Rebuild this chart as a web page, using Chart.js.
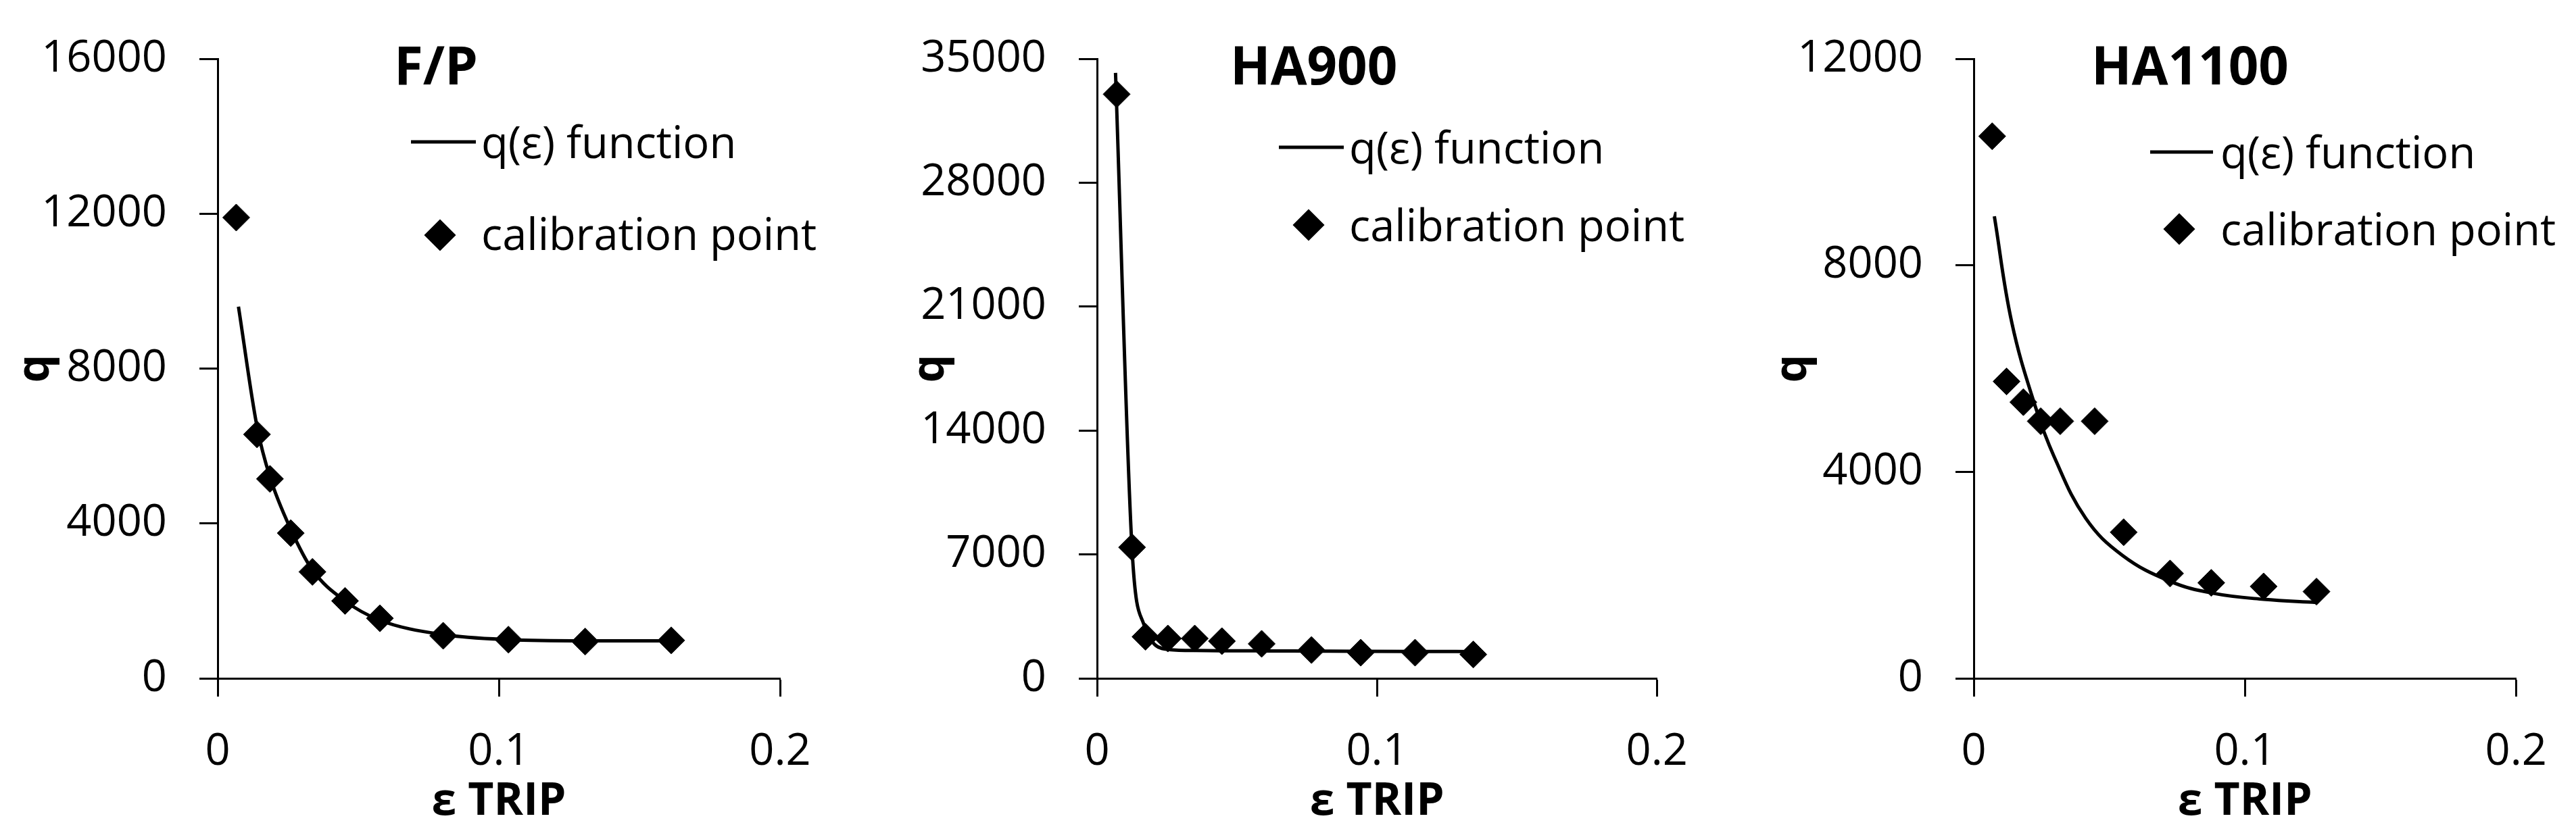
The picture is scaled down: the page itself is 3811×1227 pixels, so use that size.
<!DOCTYPE html>
<html>
<head>
<meta charset="utf-8">
<script src="https://cdn.jsdelivr.net/npm/chart.js@4.4.1/dist/chart.umd.min.js"></script>
<style>
  html, body { margin: 0; padding: 0; background: #fff; }
  body { width: 3811px; height: 1227px; position: relative; overflow: hidden; }
  canvas { position: absolute; top: 0; }
</style>
</head>
<body>
<canvas id="c1"></canvas>
<canvas id="c2"></canvas>
<canvas id="c3"></canvas>
<script>
// ---------------- DATA ----------------
const panelTitles = ['F/P', 'HA900', 'HA1100'];
const legendLabels = ['q(\u03b5) function', 'calibration point'];
const xAxisTitle = '\u03b5 TRIP';
const yAxisTitle = 'q';

const xTicks = [0, 0.1, 0.2];
const xTickLabels = ['0', '0.1', '0.2'];

const fpTicks = [0, 4000, 8000, 12000, 16000];
const fpTickLabels = ['0', '4000', '8000', '12000', '16000'];
const ha900Ticks = [0, 7000, 14000, 21000, 28000, 35000];
const ha900TickLabels = ['0', '7000', '14000', '21000', '28000', '35000'];
const ha1100Ticks = [0, 4000, 8000, 12000];
const ha1100TickLabels = ['0', '4000', '8000', '12000'];

// F/P calibration points
const fpPointX = [0.0066, 0.0140, 0.0186, 0.0260, 0.0337, 0.0453, 0.0577, 0.0802, 0.1034, 0.1307, 0.1613];
const fpPointQ = [11900, 6300, 5150, 3750, 2750, 2000, 1550, 1100, 1000, 950, 980];
// F/P q(e) function
const fpFitX = [0.0074, 0.0140, 0.0186, 0.0260, 0.0337, 0.0453, 0.0577, 0.0802, 0.1034, 0.1307, 0.1613];
const fpFitQ = [9600, 6500, 5200, 3850, 2800, 2000, 1500, 1130, 1000, 970, 970];

// HA900 calibration points
const ha900PointX = [0.0070, 0.0125, 0.0173, 0.0253, 0.0349, 0.0446, 0.0588, 0.0766, 0.0942, 0.1136, 0.1344];
const ha900PointQ = [33000, 7400, 2350, 2250, 2250, 2100, 1950, 1600, 1450, 1450, 1350];
// HA900 q(e) function
const ha900FitX = [0.0066, 0.0125, 0.0166, 0.0258, 0.0349, 0.0446, 0.0588, 0.0766, 0.0942, 0.1136, 0.1344];
const ha900FitQ = [34200, 7300, 3100, 1620, 1570, 1560, 1550, 1540, 1530, 1520, 1510];

// HA1100 calibration points
const ha1100PointX = [0.0068, 0.0121, 0.0183, 0.0247, 0.0319, 0.0446, 0.0553, 0.0724, 0.0876, 0.1069, 0.1264];
const ha1100PointQ = [10500, 5750, 5350, 4980, 4980, 4980, 2830, 2030, 1850, 1780, 1680];
// HA1100 q(e) function
const ha1100FitX = [0.0076, 0.0140, 0.0228, 0.0296, 0.0413, 0.0549, 0.0724, 0.0880, 0.1069, 0.1264];
const ha1100FitQ = [8950, 6900, 5250, 4300, 3100, 2380, 1880, 1650, 1530, 1470];

// ---------------- LAYOUT / STYLE ----------------
const FONT = "'Open Sans', 'DejaVu Sans', sans-serif";
const TICK_SIZE = 65;
const AXIS_TITLE_SIZE = 66;
const PANEL_TITLE_SIZE = 78;
const PLOT_TOP = 56, PLOT_BOTTOM = 1004, H = 1227;

const panels = [
  { id: 'c1', left: 0, width: 1270, plotLeft: 322, plotRight: 1154, qCenter: 62,
    ticks: fpTicks, tickLabels: fpTickLabels, smooth: 'monotone',
    px: fpPointX, pq: fpPointQ, fx: fpFitX, fq: fpFitQ, title: panelTitles[0],
    deco: { titleX: 583, titleBase: 125, lineX1: 608, lineX2: 704, lineY: 210, textX: 712, base1: 234, dX: 651, dY: 348, base2: 370 } },
  { id: 'c2', left: 1270, width: 1270, plotLeft: 1623, plotRight: 2453, qCenter: 116,
    ticks: ha900Ticks, tickLabels: ha900TickLabels, smooth: 'monotone',
    px: ha900PointX, pq: ha900PointQ, fx: ha900FitX, fq: ha900FitQ, title: panelTitles[1],
    deco: { titleX: 1820, titleBase: 125, lineX1: 1892, lineX2: 1988, lineY: 218, textX: 1996, base1: 242, dX: 1936, dY: 333, base2: 357 } },
  { id: 'c3', left: 2540, width: 1271, plotLeft: 2920, plotRight: 3752, qCenter: 122,
    ticks: ha1100Ticks, tickLabels: ha1100TickLabels, smooth: 'default',
    px: ha1100PointX, pq: ha1100PointQ, fx: ha1100FitX, fq: ha1100FitQ, title: panelTitles[2],
    deco: { titleX: 3094, titleBase: 125, lineX1: 3181, lineX2: 3274, lineY: 225, textX: 3285, base1: 249, dX: 3224, dY: 339, base2: 363 } }
];

function toXY(xs, ys) { return xs.map((x, i) => ({ x: x, y: ys[i] })); }

const decoPlugin = {
  id: 'deco',
  afterDraw(chart, args, opts) {
    const ctx = chart.ctx;
    const p = opts.panel;
    const d = p.deco;
    const off = p.left;
    ctx.save();
    ctx.fillStyle = '#000';
    ctx.strokeStyle = '#000';
    ctx.textAlign = 'left';
    ctx.textBaseline = 'alphabetic';
    ctx.font = 'bold ' + PANEL_TITLE_SIZE + 'px ' + FONT;
    ctx.fillText(p.title, d.titleX - off, d.titleBase);
    // legend: function line
    ctx.lineWidth = 5;
    ctx.beginPath();
    ctx.moveTo(d.lineX1 - off, d.lineY);
    ctx.lineTo(d.lineX2 - off, d.lineY);
    ctx.stroke();
    ctx.font = TICK_SIZE + 'px ' + FONT;
    ctx.fillText(legendLabels[0], d.textX - off, d.base1);
    // legend: marker
    Chart.helpers.drawPoint(ctx, { pointStyle: 'rectRot', radius: 20, borderWidth: 1, rotation: 0 }, d.dX - off, d.dY);
    ctx.fill();
    ctx.fillText(legendLabels[1], d.textX - off, d.base2);
    ctx.restore();
  }
};

function build() {
  Chart.defaults.font.family = FONT;
  Chart.defaults.color = '#000';
  panels.forEach(p => {
    const cv = document.getElementById(p.id);
    cv.width = p.width; cv.height = H;
    cv.style.left = p.left + 'px';
    cv.style.width = p.width + 'px'; cv.style.height = H + 'px';
    const yW = p.plotLeft - p.left;
    const padRight = p.width - (p.plotRight - p.left);
    const yMax = p.ticks[p.ticks.length - 1];
    new Chart(cv.getContext('2d'), {
      data: {
        datasets: [
          { type: 'scatter', label: legendLabels[1], data: toXY(p.px, p.pq),
            pointStyle: 'rectRot', pointRadius: 20, pointHoverRadius: 20,
            backgroundColor: '#000', borderColor: '#000', pointBorderWidth: 1, order: 1 },
          { type: 'line', label: legendLabels[0], data: toXY(p.fx, p.fq),
            borderColor: '#000', borderWidth: 5, pointRadius: 0, fill: false,
            cubicInterpolationMode: p.smooth, tension: 0.4, order: 2 }
        ]
      },
      options: {
        responsive: false, animation: false, devicePixelRatio: 1,
        layout: { padding: { left: 0, right: padRight, top: PLOT_TOP, bottom: 0 } },
        plugins: { legend: { display: false }, tooltip: { enabled: false }, deco: { panel: p } },
        scales: {
          x: {
            type: 'linear', position: 'bottom', min: xTicks[0], max: xTicks[xTicks.length - 1],
            afterBuildTicks: s => { s.ticks = xTicks.map(v => ({ value: v })); },
            afterFit: s => { s.height = H - PLOT_BOTTOM; },
            ticks: { font: { size: TICK_SIZE }, padding: 43, maxRotation: 0, autoSkip: false,
                     callback: (v, i) => xTickLabels[i] },
            grid: { drawOnChartArea: false, drawTicks: true, tickLength: 27, tickColor: '#000', tickWidth: 3 },
            border: { display: true, color: '#000', width: 3 },
            title: { display: true, text: xAxisTitle, font: { size: AXIS_TITLE_SIZE, weight: 'bold' }, padding: { top: 0, bottom: 0 } }
          },
          y: {
            type: 'linear', position: 'left', min: 0, max: yMax,
            afterBuildTicks: s => { s.ticks = p.ticks.map(v => ({ value: v })); },
            afterFit: s => { s.width = yW; },
            ticks: { font: { size: TICK_SIZE }, padding: 48, autoSkip: false,
                     callback: (v, i) => p.tickLabels[i] },
            grid: { drawOnChartArea: false, drawTicks: true, tickLength: 27, tickColor: '#000', tickWidth: 3 },
            border: { display: true, color: '#000', width: 3 },
            title: { display: true, text: yAxisTitle, font: { size: AXIS_TITLE_SIZE, weight: 'bold' },
                     padding: { top: p.qCenter - 9 - AXIS_TITLE_SIZE * 0.6, bottom: 0 } }
          }
        }
      },
      plugins: [decoPlugin]
    });
  });
}

const fontsReady = (document.fonts && document.fonts.load)
  ? Promise.all([
      document.fonts.load(TICK_SIZE + "px 'Open Sans'"),
      document.fonts.load("bold " + TICK_SIZE + "px 'Open Sans'")
    ]).catch(() => null)
  : Promise.resolve();
fontsReady.then(build, build);
</script>
</body>
</html>
